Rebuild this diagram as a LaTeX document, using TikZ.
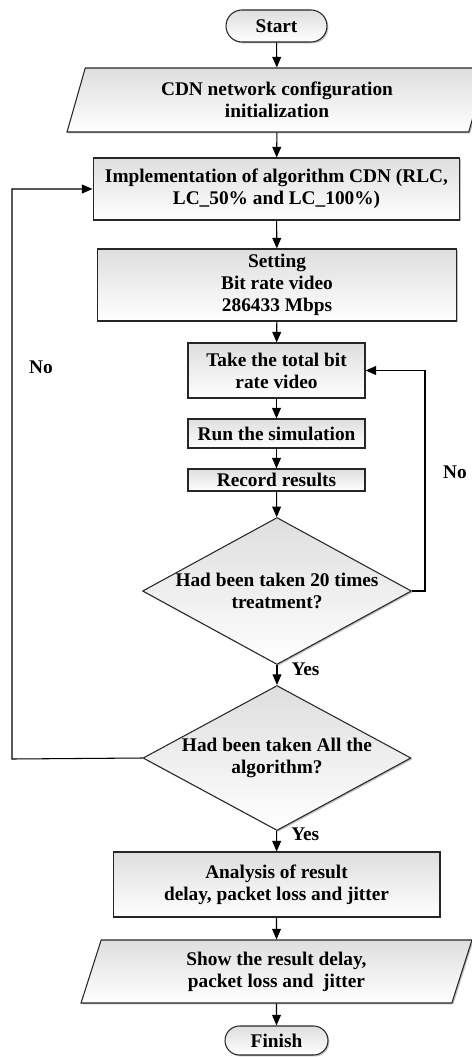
\documentclass[tikz,border=0pt]{standalone}
\usepackage{fontspec}
\setmainfont{Liberation Serif}
\usetikzlibrary{shapes.geometric,shapes.misc,shadows,arrows.meta}
\tikzset{
  box/.style={draw=black!85, line width=0.6pt, top color=black!13, bottom color=white,
    drop shadow={shadow xshift=0.8pt, shadow yshift=-0.8pt},
    align=center, font=\fontsize{11}{12.5}\selectfont\bfseries, inner sep=0pt},
  term/.style={box, rounded rectangle},
  io/.style={box, trapezium, trapezium left angle=63, trapezium right angle=117, trapezium stretches body},
  dec/.style={box, diamond, aspect=1.83},
  lab/.style={font=\fontsize{11}{12.5}\selectfont\bfseries, inner sep=0pt},
}
\begin{document}
\begin{tikzpicture}[x=0.02cm, y=-0.02cm, >={Triangle[length=6pt,width=5pt]}, line width=0.6pt]
\useasboundingbox (0,0) rectangle (472,1057);
\node (start) at (276.5,26) [term, minimum width=2.02cm, minimum height=0.64cm] {Start};
\node (init) at (277,100) [io, minimum width=8.4cm, minimum height=1.28cm] {CDN network configuration\\initialization};
\node (impl) at (276.5,189) [box, minimum width=7.34cm, minimum height=1.24cm] {Implementation of algorithm CDN (RLC,\\LC\_50\% and LC\_100\%)};
\node (set) at (277,285) [box, minimum width=7.2cm, minimum height=1.44cm] {Setting\\Bit rate video\\286433 Mbps};
\node (take) at (276.5,370.5) [box, minimum width=3.54cm, minimum height=1.1cm] {Take the total bit\\rate video};
\node (run) at (276.5,433.5) [box, minimum width=3.54cm, minimum height=0.58cm] {Run the simulation};
\node (rec) at (276.5,480) [box, minimum width=3.54cm, minimum height=0.44cm] {Record results};
\node (d1) at (277,591) [dec, minimum width=5.38cm, minimum height=2.94cm] {Had been taken 20 times\\treatment?};
\node (d2) at (277,758) [dec, minimum width=5.36cm, minimum height=2.9cm] {Had been taken All the\\algorithm?};
\node (ana) at (276.5,884.5) [box, minimum width=6.54cm, minimum height=1.3cm] {Analysis of result\\delay, packet loss and jitter};
\node (show) at (276.5,971.5) [io, minimum width=7.82cm, minimum height=1.26cm] {Show the result delay,\\packet loss and~ jitter};
\node (fin) at (276.5,1040.5) [term, minimum width=2.06cm, minimum height=0.58cm] {Finish};
\coordinate (r) at (425,591);
\coordinate (l) at (12,759);
\draw[->] (start) -- (init);
\draw[->] (init) -- (impl);
\draw[->] (impl) -- (set);
\draw[->] (set) -- (take);
\draw[->] (take) -- (run);
\draw[->] (run) -- (rec);
\draw[->] (rec) -- (d1);
\draw[->] (d1) -- node[lab, pos=0.2, anchor=west, xshift=8pt]{Yes} (d2);
\draw[->] (d2) -- node[lab, pos=0.15, anchor=west, xshift=8pt]{Yes} (ana);
\draw[->] (ana) -- (show);
\draw[->] (show) -- (fin);
\draw[->] (d1.east) -- (r) |- node[lab, pos=0.27, anchor=west, xshift=10pt]{No} (take.east);
\draw[->] (d2.west) -- (l) |- node[lab, pos=0.344, anchor=west, xshift=9.5pt]{No} (impl.west);
\end{tikzpicture}
\end{document}
